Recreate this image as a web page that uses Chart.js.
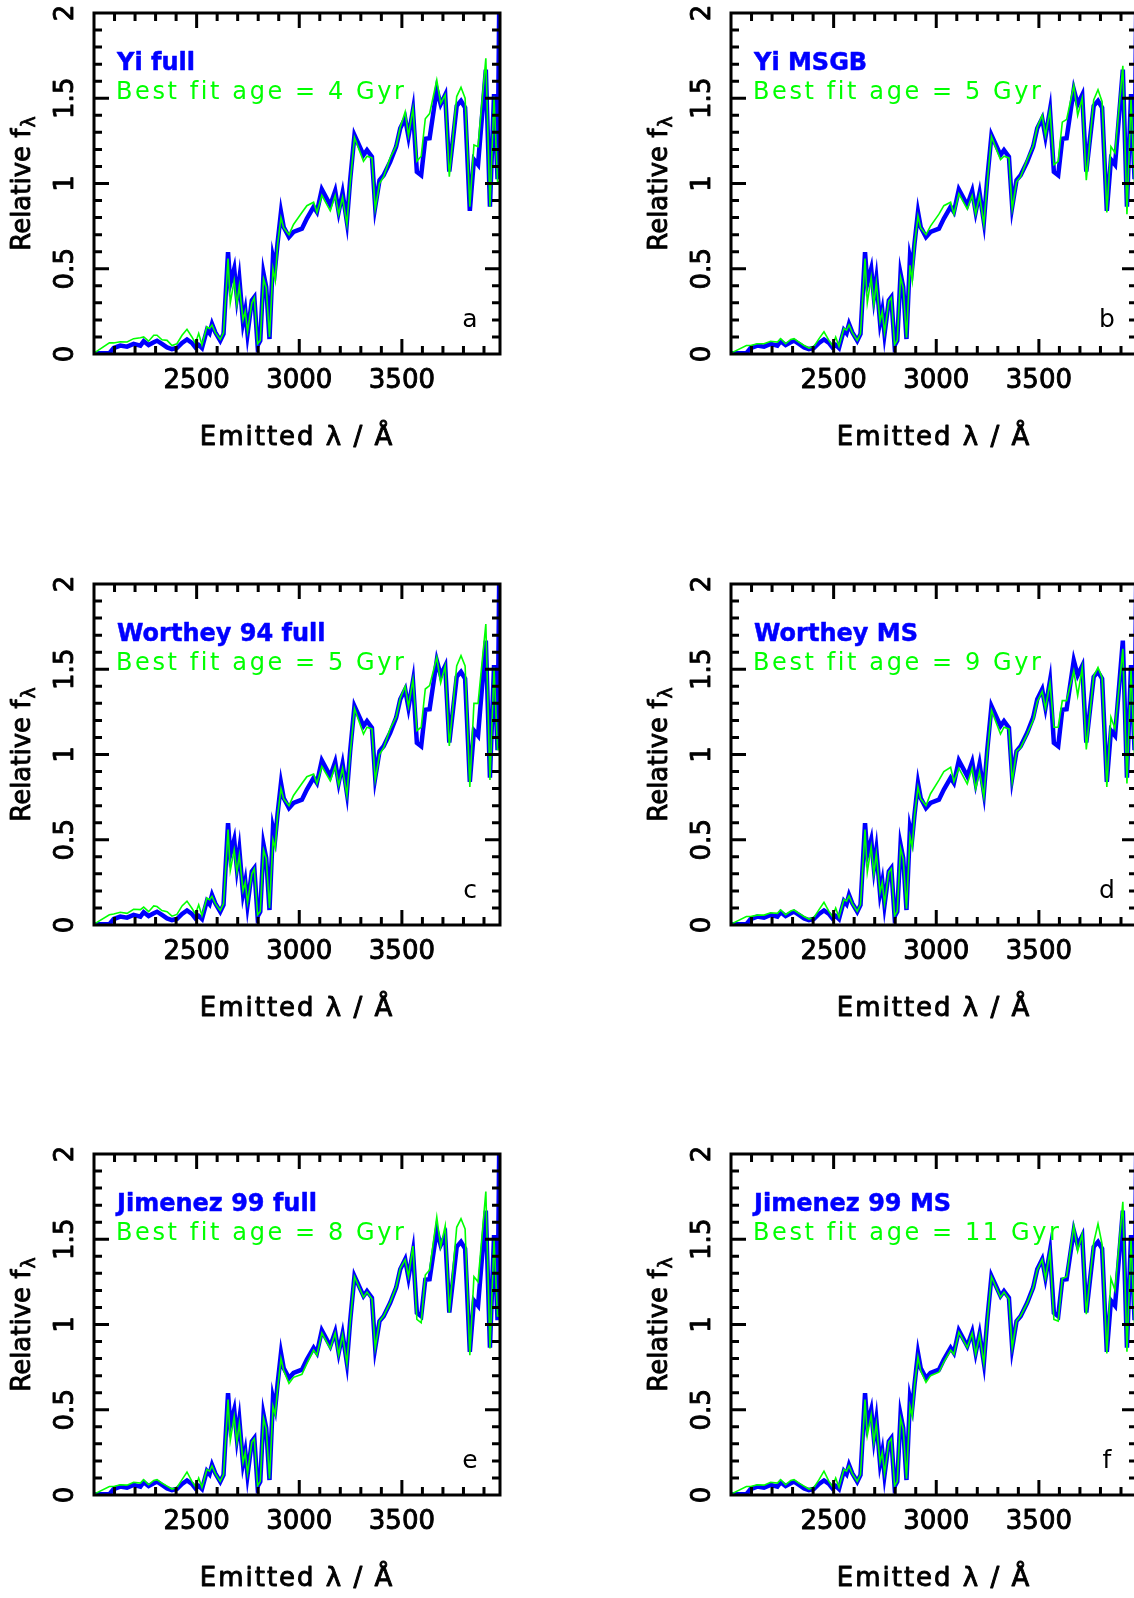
<!DOCTYPE html>
<html><head><meta charset="utf-8">
<script src="https://cdn.jsdelivr.net/npm/chart.js@4.4.0/dist/chart.umd.min.js"></script>
<style>
html,body{margin:0;padding:0;background:#fff;width:1134px;height:1598px;overflow:hidden;position:relative}
.cell{position:absolute;width:580px;height:570px}
canvas{display:block}
</style></head><body>
<div class="cell" style="left:0px;top:0px"><canvas id="p0" width="580" height="570"></canvas></div>
<div class="cell" style="left:637px;top:0px"><canvas id="p1" width="580" height="570"></canvas></div>
<div class="cell" style="left:0px;top:570.5px"><canvas id="p2" width="580" height="570"></canvas></div>
<div class="cell" style="left:637px;top:570.5px"><canvas id="p3" width="580" height="570"></canvas></div>
<div class="cell" style="left:0px;top:1141px"><canvas id="p4" width="580" height="570"></canvas></div>
<div class="cell" style="left:637px;top:1141px"><canvas id="p5" width="580" height="570"></canvas></div>
<script>
const wavelength = [2000,2075,2096,2128,2161,2193,2226,2242,2266,2291,
 2307,2331,2356,2380,2404,2429,2453,2477,2494,2510,
 2526,2550,2563,2575,2591,2615,2631,2653,2664,2683,
 2696,2708,2726,2737,2748,2769,2781,2797,2810,2826,
 2839,2855,2872,2883,2894,2911,2924,2950,2972,3013,
 3037,3070,3086,3110,3151,3175,3192,3211,3232,3248,
 3269,3313,3330,3354,3370,3391,3411,3443,3472,3492,
 3516,3532,3554,3573,3594,3614,3635,3670,3689,3711,
 3731,3767,3788,3808,3831,3851,3871,3909,3929,3949,
 3966,3977];

const observed = [0.005,0.005,0.035,0.049,0.043,0.059,0.049,0.075,0.053,0.069,
 0.078,0.059,0.039,0.029,0.035,0.065,0.085,0.065,0.039,0.053,
 0.035,0.141,0.122,0.176,0.127,0.078,0.118,0.598,0.412,0.500,
 0.333,0.441,0.186,0.255,0.118,0.314,0.333,0.049,0.078,0.471,
 0.392,0.088,0.569,0.510,0.647,0.833,0.745,0.686,0.716,0.735,
 0.794,0.863,0.833,0.965,0.873,0.957,0.833,0.945,0.775,1.020,
 1.284,1.167,1.196,1.157,0.863,1.020,1.049,1.127,1.216,1.324,
 1.382,1.275,1.431,1.069,1.049,1.262,1.265,1.552,1.465,1.520,
 1.070,1.455,1.485,1.445,0.840,1.140,1.110,1.668,0.864,1.525,
 1.025,2.400];

const fitYiFull = [0.005,0.065,0.065,0.072,0.070,0.090,0.095,0.100,0.075,0.110,
 0.110,0.083,0.080,0.050,0.060,0.110,0.145,0.100,0.063,0.121,
 0.053,0.160,0.150,0.170,0.125,0.085,0.125,0.560,0.300,0.430,
 0.290,0.400,0.200,0.250,0.130,0.300,0.330,0.060,0.080,0.440,
 0.390,0.100,0.500,0.430,0.640,0.800,0.740,0.700,0.760,0.830,
 0.870,0.890,0.830,0.930,0.840,0.930,0.820,0.920,0.760,1.000,
 1.270,1.130,1.160,1.150,0.850,1.000,1.040,1.150,1.220,1.330,
 1.420,1.280,1.440,1.130,1.160,1.380,1.410,1.607,1.470,1.520,
 1.040,1.510,1.564,1.500,0.864,1.226,1.216,1.734,0.864,1.510,
 1.010,1.010];

const fitYiMSGB = [0.005,0.050,0.050,0.060,0.060,0.075,0.070,0.090,0.060,0.085,
 0.090,0.070,0.050,0.035,0.045,0.090,0.130,0.080,0.050,0.100,
 0.045,0.150,0.140,0.170,0.125,0.080,0.120,0.560,0.300,0.450,
 0.290,0.420,0.190,0.250,0.125,0.310,0.330,0.055,0.080,0.450,
 0.390,0.095,0.520,0.430,0.640,0.810,0.740,0.700,0.750,0.820,
 0.870,0.890,0.820,0.940,0.850,0.930,0.820,0.930,0.760,1.000,
 1.275,1.140,1.160,1.150,0.850,1.010,1.040,1.140,1.220,1.330,
 1.400,1.280,1.430,1.110,1.130,1.360,1.375,1.575,1.400,1.500,
 1.020,1.490,1.550,1.480,0.830,1.216,1.180,1.690,0.820,1.500,
 1.000,1.000];

const fitWortheyFull = [0.005,0.060,0.065,0.075,0.068,0.092,0.090,0.105,0.078,0.112,
 0.108,0.085,0.078,0.052,0.062,0.112,0.140,0.098,0.065,0.118,
 0.055,0.158,0.148,0.168,0.125,0.085,0.125,0.560,0.320,0.440,
 0.310,0.410,0.200,0.250,0.130,0.300,0.330,0.060,0.080,0.440,
 0.390,0.100,0.500,0.450,0.640,0.800,0.740,0.700,0.760,0.830,
 0.870,0.886,0.830,0.930,0.846,0.930,0.820,0.920,0.760,1.000,
 1.270,1.120,1.160,1.150,0.850,1.000,1.040,1.150,1.220,1.330,
 1.400,1.280,1.440,1.140,1.160,1.384,1.404,1.570,1.420,1.520,
 1.050,1.520,1.580,1.520,0.810,1.300,1.300,1.765,0.850,1.510,
 1.030,1.030];

const fitWortheyMS = [0.005,0.050,0.050,0.058,0.058,0.072,0.068,0.088,0.060,0.082,
 0.088,0.068,0.050,0.035,0.045,0.090,0.133,0.080,0.050,0.100,
 0.045,0.150,0.140,0.170,0.125,0.080,0.120,0.560,0.310,0.460,
 0.300,0.420,0.190,0.250,0.125,0.310,0.330,0.055,0.080,0.450,
 0.390,0.095,0.520,0.455,0.640,0.810,0.740,0.700,0.770,0.850,
 0.900,0.925,0.840,0.920,0.827,0.920,0.800,0.900,0.750,1.000,
 1.260,1.120,1.160,1.150,0.840,1.020,1.040,1.120,1.200,1.310,
 1.370,1.270,1.420,1.160,1.160,1.316,1.316,1.490,1.345,1.510,
 1.030,1.460,1.510,1.450,0.810,1.218,1.150,1.620,0.830,1.500,
 0.990,0.990];

const fitJimenezFull = [0.005,0.050,0.050,0.060,0.058,0.075,0.070,0.090,0.060,0.085,
 0.090,0.070,0.052,0.035,0.045,0.090,0.135,0.080,0.050,0.100,
 0.045,0.150,0.140,0.170,0.125,0.080,0.120,0.560,0.320,0.460,
 0.310,0.420,0.190,0.250,0.125,0.310,0.330,0.055,0.080,0.450,
 0.390,0.095,0.520,0.470,0.620,0.800,0.730,0.655,0.690,0.708,
 0.770,0.850,0.820,0.950,0.860,0.950,0.820,0.940,0.770,1.010,
 1.280,1.160,1.190,1.150,0.860,1.020,1.050,1.130,1.220,1.330,
 1.380,1.280,1.460,1.030,1.010,1.290,1.320,1.630,1.456,1.578,
 1.070,1.570,1.620,1.560,0.820,1.280,1.250,1.780,0.860,1.500,
 1.050,1.050];

const fitJimenezMS = [0.005,0.050,0.050,0.060,0.058,0.075,0.070,0.090,0.060,0.085,
 0.090,0.070,0.052,0.035,0.045,0.090,0.140,0.080,0.050,0.100,
 0.045,0.150,0.140,0.170,0.125,0.080,0.120,0.560,0.350,0.470,
 0.310,0.420,0.190,0.250,0.125,0.310,0.330,0.055,0.080,0.450,
 0.390,0.095,0.520,0.460,0.640,0.810,0.730,0.660,0.700,0.720,
 0.780,0.850,0.825,0.955,0.865,0.950,0.825,0.940,0.770,1.015,
 1.280,1.160,1.190,1.150,0.860,1.020,1.050,1.125,1.215,1.320,
 1.380,1.270,1.430,1.030,1.020,1.270,1.280,1.578,1.430,1.530,
 1.060,1.480,1.590,1.470,0.830,1.270,1.200,1.720,0.840,1.500,
 1.000,1.000];

const modelNames = ['Yi full','Yi MSGB','Worthey 94 full','Worthey MS','Jimenez 99 full','Jimenez 99 MS'];
const bestAges = [4,5,5,9,8,11];
const panelLetters = ['a','b','c','d','e','f'];
const fits = [fitYiFull,fitYiMSGB,fitWortheyFull,fitWortheyMS,fitJimenezFull,fitJimenezMS];

const xTickLabels = [2500,3000,3500];
const yTickLabels = ['0','0.5','1','1.5','2'];
const yTickValues = [0,0.5,1,1.5,2];

function toPoints(xs, ys){ return xs.map((x,i)=>({x:x,y:ys[i]})); }

function boldText(ctx, txt, x, y, w){
  ctx.lineWidth = w;
  ctx.lineJoin = 'round';
  ctx.strokeText(txt, x, y);
  ctx.fillText(txt, x, y);
}

function framePlugin(idx){
  return {
    id:'frame'+idx,
    afterDraw(chart){
      const ctx = chart.ctx, a = chart.chartArea;
      const xs = chart.scales.x, ys = chart.scales.y;
      ctx.save();
      ctx.strokeStyle = '#000';
      ctx.lineWidth = 3;
      ctx.lineCap = 'butt';
      ctx.strokeRect(a.left, a.top, a.right - a.left, a.bottom - a.top);
      ctx.beginPath();
      for (let v = 2100; v < xs.max; v += 100) {
        const px = xs.getPixelForValue(v);
        const len = (v % 500 === 0) ? 15 : 8;
        ctx.moveTo(px, a.bottom); ctx.lineTo(px, a.bottom - len);
        ctx.moveTo(px, a.top); ctx.lineTo(px, a.top + len);
      }
      for (let k = 1; k < 20; k++) {
        const v = k / 10;
        const py = ys.getPixelForValue(v);
        const len = (k % 5 === 0) ? 15 : 8;
        ctx.moveTo(a.left, py); ctx.lineTo(a.left + len, py);
        ctx.moveTo(a.right, py); ctx.lineTo(a.right - len, py);
      }
      ctx.stroke();

      ctx.fillStyle = '#000';
      ctx.strokeStyle = '#000';
      ctx.font = "26px 'DejaVu Sans'";
      ctx.textAlign = 'center';
      ctx.textBaseline = 'middle';
      xTickLabels.forEach(v => {
        boldText(ctx, String(v), xs.getPixelForValue(v), a.bottom + 27, 0.9);
      });
      yTickValues.forEach((v,i) => {
        ctx.save();
        ctx.translate(a.left - 28, ys.getPixelForValue(v));
        ctx.rotate(-Math.PI/2);
        boldText(ctx, yTickLabels[i], 0, 0, 0.9);
        ctx.restore();
      });
      ctx.save();
      ctx.font = "26px 'DejaVu Sans'";
      ctx.letterSpacing = '2px';
      boldText(ctx, 'Emitted λ / Å', (a.left + a.right)/2, a.bottom + 84, 0.9);
      ctx.restore();
      ctx.save();
      ctx.translate(a.left - 71, (a.top + a.bottom)/2);
      ctx.rotate(-Math.PI/2);
      ctx.textAlign = 'left';
      ctx.textBaseline = 'middle';
      ctx.font = "26px 'DejaVu Sans'";
      const main = 'Relative f';
      const w1 = ctx.measureText(main).width;
      ctx.font = "19px 'DejaVu Sans'";
      const w2 = ctx.measureText('λ').width;
      const start = -(w1 + w2 + 1)/2;
      ctx.font = "26px 'DejaVu Sans'";
      boldText(ctx, main, start, 0, 0.9);
      ctx.font = "19px 'DejaVu Sans'";
      boldText(ctx, 'λ', start + w1 + 1, 7, 0.7);
      ctx.restore();
      ctx.textAlign = 'left';
      ctx.textBaseline = 'alphabetic';
      ctx.fillStyle = '#0000ff';
      ctx.strokeStyle = '#0000ff';
      ctx.font = "bold 24px 'DejaVu Sans'";
      boldText(ctx, modelNames[idx], a.left + 23, a.top + 57, 0.5);
      ctx.save();
      ctx.fillStyle = '#00ff00';
      ctx.font = "24px 'DejaVu Sans'";
      ctx.letterSpacing = '2.6px';
      ctx.fillText('Best fit age = ' + bestAges[idx] + ' Gyr', a.left + 22, a.top + 86);
      ctx.restore();
      ctx.fillStyle = '#000';
      ctx.textAlign = 'center';
      ctx.font = "25px 'DejaVu Sans'";
      ctx.fillText(panelLetters[idx], a.left + 376, a.bottom - 27);
      ctx.restore();
    }
  };
}

for (let i = 0; i < 6; i++) {
  new Chart(document.getElementById('p' + i), {
    type: 'line',
    data: {
      datasets: [
        { label: 'Best fit model', data: toPoints(wavelength, fits[i]), borderColor: '#00ff00', borderWidth: 1.6, pointRadius: 0, tension: 0, fill: false, clip: 1 },
        { label: 'Observed', data: toPoints(wavelength, observed), borderColor: '#0000ff', borderWidth: 4.5, pointRadius: 0, tension: 0, fill: false, clip: 1 }
      ]
    },
    options: {
      responsive: false,
      animation: false,
      events: [],
      layout: { padding: { left: 94, top: 13, right: 80, bottom: 216 } },
      plugins: { legend: { display: false }, tooltip: { enabled: false } },
      scales: {
        x: { type: 'linear', min: 2000, max: 3978, display: false },
        y: { type: 'linear', min: 0, max: 2, display: false }
      }
    },
    plugins: [framePlugin(i)]
  });
}
</script>
</body></html>
